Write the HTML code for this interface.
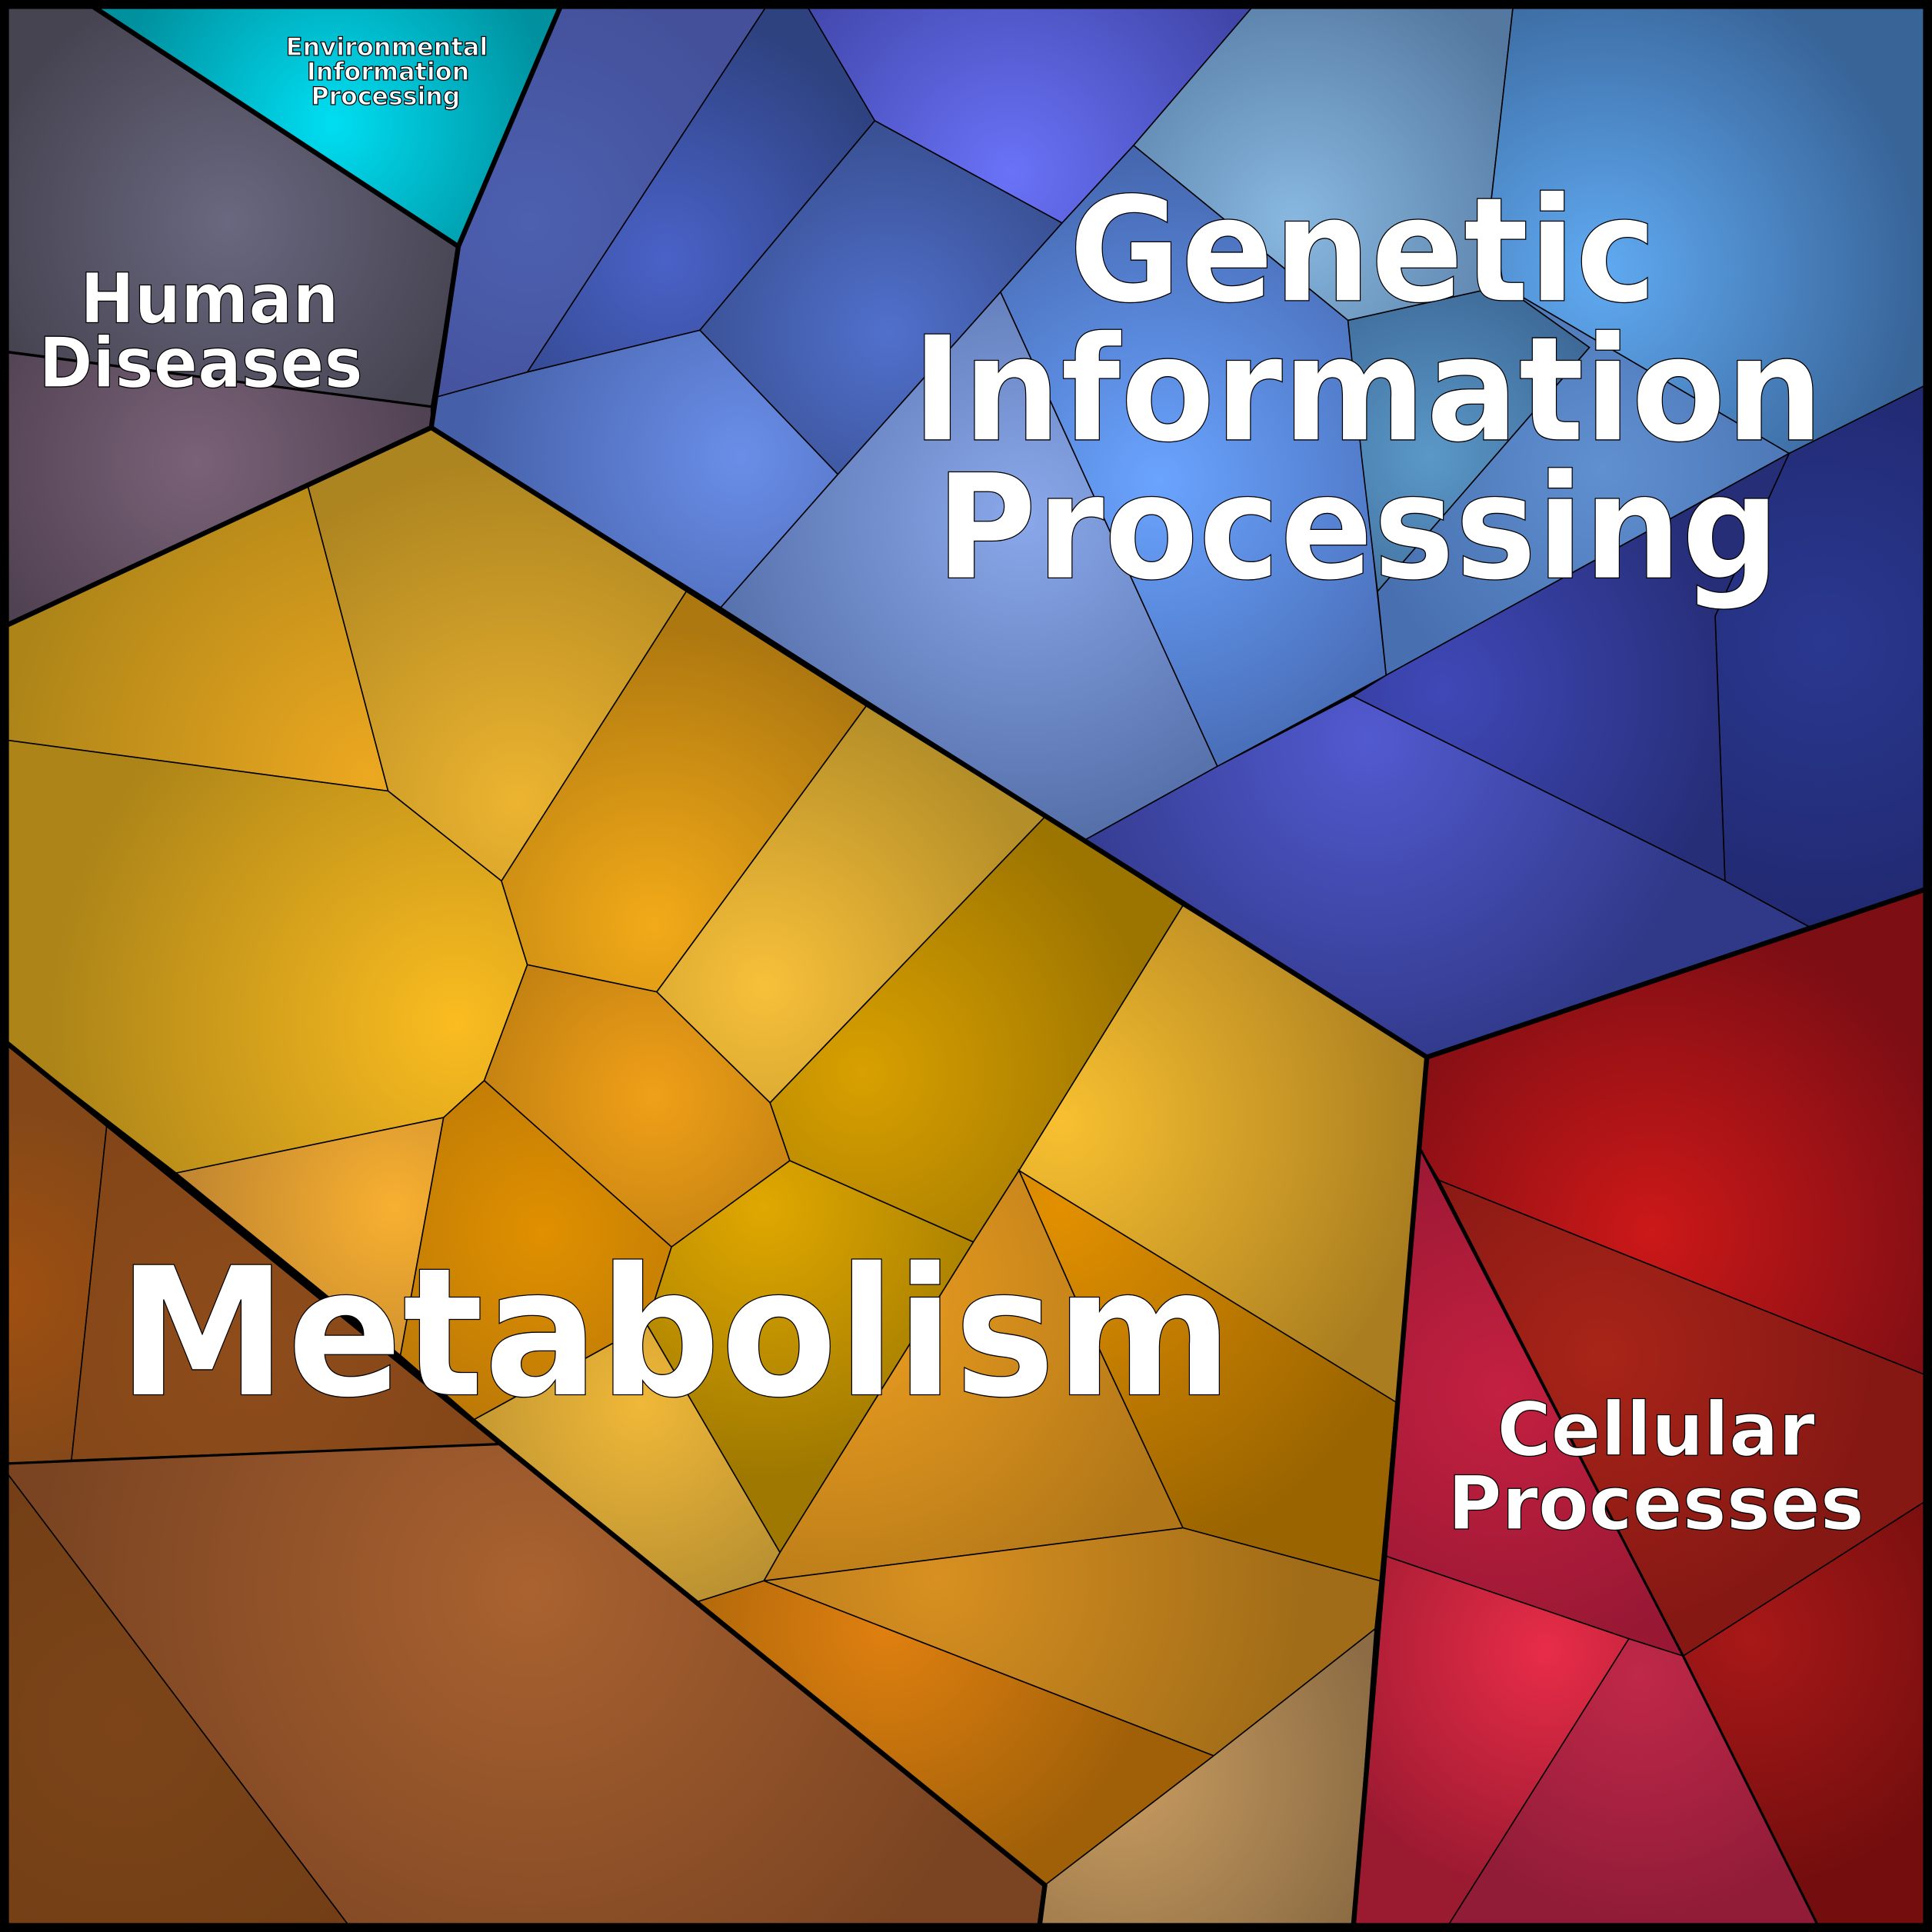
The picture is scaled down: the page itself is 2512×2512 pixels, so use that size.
<!DOCTYPE html>
<html><head><meta charset="utf-8"><style>html,body{margin:0;padding:0;background:#000}svg{display:block}
text{font-family:"DejaVu Sans","Liberation Sans",sans-serif;font-weight:bold;fill:#fff;stroke:#000;text-anchor:middle}</style></head>
<body>
<svg width="2512" height="2512" viewBox="0 0 1568 1568" xmlns="http://www.w3.org/2000/svg">
<defs>
<radialGradient id="hd1" gradientUnits="userSpaceOnUse" cx="185" cy="180" r="200"><stop offset="0" stop-color="#6a6880"/><stop offset="1" stop-color="#474452"/></radialGradient>
<radialGradient id="hd2" gradientUnits="userSpaceOnUse" cx="160" cy="375" r="200"><stop offset="0" stop-color="#7a6278"/><stop offset="1" stop-color="#4e4050"/></radialGradient>
<radialGradient id="env" gradientUnits="userSpaceOnUse" cx="270" cy="100" r="180"><stop offset="0" stop-color="#00def2"/><stop offset="1" stop-color="#00909e"/></radialGradient>
<radialGradient id="gA" gradientUnits="userSpaceOnUse" cx="430" cy="180" r="200"><stop offset="0" stop-color="#4c60b0"/><stop offset="1" stop-color="#44509a"/></radialGradient>
<radialGradient id="gB" gradientUnits="userSpaceOnUse" cx="540" cy="210" r="200"><stop offset="0" stop-color="#4a62c8"/><stop offset="1" stop-color="#2e4280"/></radialGradient>
<radialGradient id="gC" gradientUnits="userSpaceOnUse" cx="820" cy="140" r="220"><stop offset="0" stop-color="#6a72f8"/><stop offset="1" stop-color="#4046a8"/></radialGradient>
<radialGradient id="gD" gradientUnits="userSpaceOnUse" cx="720" cy="270" r="200"><stop offset="0" stop-color="#5070cc"/><stop offset="1" stop-color="#354a88"/></radialGradient>
<radialGradient id="gE" gradientUnits="userSpaceOnUse" cx="600" cy="370" r="220"><stop offset="0" stop-color="#6a8ee8"/><stop offset="1" stop-color="#4560a8"/></radialGradient>
<radialGradient id="gF" gradientUnits="userSpaceOnUse" cx="1050" cy="180" r="220"><stop offset="0" stop-color="#88b8e0"/><stop offset="1" stop-color="#5478a0"/></radialGradient>
<radialGradient id="gG" gradientUnits="userSpaceOnUse" cx="1300" cy="220" r="260"><stop offset="0" stop-color="#60aaf2"/><stop offset="1" stop-color="#386498"/></radialGradient>
<radialGradient id="gH" gradientUnits="userSpaceOnUse" cx="940" cy="390" r="260"><stop offset="0" stop-color="#6aa4ff"/><stop offset="1" stop-color="#4668b0"/></radialGradient>
<radialGradient id="gI" gradientUnits="userSpaceOnUse" cx="1160" cy="370" r="150"><stop offset="0" stop-color="#5a98c8"/><stop offset="1" stop-color="#3e6a98"/></radialGradient>
<radialGradient id="gJ" gradientUnits="userSpaceOnUse" cx="1300" cy="380" r="200"><stop offset="0" stop-color="#6090d0"/><stop offset="1" stop-color="#4870b0"/></radialGradient>
<radialGradient id="gK" gradientUnits="userSpaceOnUse" cx="830" cy="420" r="260"><stop offset="0" stop-color="#8aa8ea"/><stop offset="1" stop-color="#5670aa"/></radialGradient>
<radialGradient id="gL" gradientUnits="userSpaceOnUse" cx="1480" cy="520" r="250"><stop offset="0" stop-color="#2a3890"/><stop offset="1" stop-color="#20286e"/></radialGradient>
<radialGradient id="gM" gradientUnits="userSpaceOnUse" cx="1170" cy="560" r="240"><stop offset="0" stop-color="#4048b8"/><stop offset="1" stop-color="#262e78"/></radialGradient>
<radialGradient id="gN" gradientUnits="userSpaceOnUse" cx="1110" cy="600" r="280"><stop offset="0" stop-color="#525ad0"/><stop offset="1" stop-color="#303888"/></radialGradient>
<radialGradient id="c1" gradientUnits="userSpaceOnUse" cx="1340" cy="1000" r="260"><stop offset="0" stop-color="#cc1818"/><stop offset="1" stop-color="#7c0e14"/></radialGradient>
<radialGradient id="c2" gradientUnits="userSpaceOnUse" cx="1300" cy="1100" r="220"><stop offset="0" stop-color="#a82418"/><stop offset="1" stop-color="#861814"/></radialGradient>
<radialGradient id="c3" gradientUnits="userSpaceOnUse" cx="1220" cy="1130" r="220"><stop offset="0" stop-color="#c42040"/><stop offset="1" stop-color="#981834"/></radialGradient>
<radialGradient id="c4" gradientUnits="userSpaceOnUse" cx="1255" cy="1340" r="200"><stop offset="0" stop-color="#e82c48"/><stop offset="1" stop-color="#9a1a30"/></radialGradient>
<radialGradient id="c5" gradientUnits="userSpaceOnUse" cx="1330" cy="1360" r="200"><stop offset="0" stop-color="#c02848"/><stop offset="1" stop-color="#901c38"/></radialGradient>
<radialGradient id="c6" gradientUnits="userSpaceOnUse" cx="1420" cy="1330" r="200"><stop offset="0" stop-color="#a81818"/><stop offset="1" stop-color="#740e0e"/></radialGradient>
<radialGradient id="m1" gradientUnits="userSpaceOnUse" cx="300" cy="630" r="300"><stop offset="0" stop-color="#eca820"/><stop offset="1" stop-color="#ac8418"/></radialGradient>
<radialGradient id="m2" gradientUnits="userSpaceOnUse" cx="420" cy="650" r="280"><stop offset="0" stop-color="#ecb430"/><stop offset="1" stop-color="#ac8420"/></radialGradient>
<radialGradient id="m3" gradientUnits="userSpaceOnUse" cx="370" cy="830" r="330"><stop offset="0" stop-color="#fabc20"/><stop offset="1" stop-color="#ac8418"/></radialGradient>
<radialGradient id="m4" gradientUnits="userSpaceOnUse" cx="530" cy="750" r="240"><stop offset="0" stop-color="#f2aa18"/><stop offset="1" stop-color="#ae7810"/></radialGradient>
<radialGradient id="m5" gradientUnits="userSpaceOnUse" cx="620" cy="800" r="240"><stop offset="0" stop-color="#f8c03a"/><stop offset="1" stop-color="#b48e28"/></radialGradient>
<radialGradient id="m6" gradientUnits="userSpaceOnUse" cx="530" cy="890" r="180"><stop offset="0" stop-color="#f0a018"/><stop offset="1" stop-color="#b87a10"/></radialGradient>
<radialGradient id="m7" gradientUnits="userSpaceOnUse" cx="700" cy="870" r="240"><stop offset="0" stop-color="#d8a000"/><stop offset="1" stop-color="#9c7400"/></radialGradient>
<radialGradient id="m8" gradientUnits="userSpaceOnUse" cx="860" cy="910" r="300"><stop offset="0" stop-color="#f8c030"/><stop offset="1" stop-color="#aa7e20"/></radialGradient>
<radialGradient id="m9" gradientUnits="userSpaceOnUse" cx="320" cy="980" r="200"><stop offset="0" stop-color="#f8b030"/><stop offset="1" stop-color="#b88030"/></radialGradient>
<radialGradient id="m10" gradientUnits="userSpaceOnUse" cx="440" cy="1000" r="200"><stop offset="0" stop-color="#e09000"/><stop offset="1" stop-color="#b47408"/></radialGradient>
<radialGradient id="m11" gradientUnits="userSpaceOnUse" cx="620" cy="980" r="220"><stop offset="0" stop-color="#e0a800"/><stop offset="1" stop-color="#9e7800"/></radialGradient>
<radialGradient id="m12" gradientUnits="userSpaceOnUse" cx="520" cy="1140" r="200"><stop offset="0" stop-color="#f0b838"/><stop offset="1" stop-color="#b08a30"/></radialGradient>
<radialGradient id="m13" gradientUnits="userSpaceOnUse" cx="860" cy="980" r="300"><stop offset="0" stop-color="#e29000"/><stop offset="1" stop-color="#9a6400"/></radialGradient>
<radialGradient id="m14" gradientUnits="userSpaceOnUse" cx="680" cy="1050" r="300"><stop offset="0" stop-color="#f0a020"/><stop offset="1" stop-color="#b07618"/></radialGradient>
<radialGradient id="m15" gradientUnits="userSpaceOnUse" cx="760" cy="1280" r="300"><stop offset="0" stop-color="#d89020"/><stop offset="1" stop-color="#a06c18"/></radialGradient>
<radialGradient id="m16" gradientUnits="userSpaceOnUse" cx="720" cy="1320" r="220"><stop offset="0" stop-color="#e08010"/><stop offset="1" stop-color="#a06008"/></radialGradient>
<radialGradient id="m17" gradientUnits="userSpaceOnUse" cx="910" cy="1440" r="220"><stop offset="0" stop-color="#c89c60"/><stop offset="1" stop-color="#8c6c44"/></radialGradient>
<radialGradient id="b1" gradientUnits="userSpaceOnUse" cx="0" cy="1050" r="150"><stop offset="0" stop-color="#a05010"/><stop offset="1" stop-color="#844818"/></radialGradient>
<radialGradient id="b2" gradientUnits="userSpaceOnUse" cx="200" cy="1100" r="200"><stop offset="0" stop-color="#8e4c1a"/><stop offset="1" stop-color="#844618"/></radialGradient>
<radialGradient id="b3" gradientUnits="userSpaceOnUse" cx="430" cy="1290" r="400"><stop offset="0" stop-color="#aa6230"/><stop offset="1" stop-color="#7a4422"/></radialGradient>
<radialGradient id="b4" gradientUnits="userSpaceOnUse" cx="100" cy="1400" r="250"><stop offset="0" stop-color="#7c4418"/><stop offset="1" stop-color="#723e16"/></radialGradient>
</defs>
<rect width="1568" height="1568" fill="#000"/>
<g stroke="#000" stroke-width="1">
<polygon fill="url(#hd1)" points="0,0 75,5 372,200 350,330 5,285 0,285"/>
<polygon fill="url(#hd2)" points="0,285 5,285 350,330 350,347 0,510"/>
<polygon fill="url(#env)" points="75,5 455,5 372,200"/>
<polygon fill="url(#gA)" points="455,5 622,5 428,302 355,322 372,200"/>
<polygon fill="url(#gB)" points="622,5 655,5 710,98 568,268 428,302"/>
<polygon fill="url(#gC)" points="655,5 1017,5 920,118 862,181 710,98"/>
<polygon fill="url(#gD)" points="710,98 862,181 812,237 680,385 568,268"/>
<polygon fill="url(#gE)" points="355,322 428,302 568,268 680,385 585,493 350,347"/>
<polygon fill="url(#gF)" points="1017,5 1228,5 1210,165 1220,232 1094,260 920,118"/>
<polygon fill="url(#gG)" points="1228,5 1568,5 1568,310 1452,368 1220,232 1210,165"/>
<polygon fill="url(#gH)" points="920,118 1094,260 1125,548 988,622 812,237 862,181"/>
<polygon fill="url(#gI)" points="1094,260 1220,232 1290,282 1118,480 1105,370"/>
<polygon fill="url(#gJ)" points="1220,232 1452,368 1125,548 1118,480 1290,282"/>
<polygon fill="url(#gK)" points="812,237 988,622 880,682 585,493 680,385"/>
<polygon fill="url(#gL)" points="1452,368 1568,310 1568,720 1468,752 1400,715 1392,500"/>
<polygon fill="url(#gM)" points="1125,548 1452,368 1392,500 1400,715 1098,565"/>
<polygon fill="url(#gN)" points="988,622 1098,565 1400,715 1468,752 1158,858 880,682"/>
<polygon fill="url(#c1)" points="1158,858 1568,720 1568,1118 1168,958 1153,933"/>
<polygon fill="url(#c2)" points="1168,958 1568,1118 1568,1215 1366,1344"/>
<polygon fill="url(#c3)" points="1153,933 1366,1344 1322,1330 1125,1263"/>
<polygon fill="url(#c4)" points="1125,1263 1322,1330 1172,1568 1098,1568"/>
<polygon fill="url(#c5)" points="1322,1330 1366,1344 1478,1568 1172,1568"/>
<polygon fill="url(#c6)" points="1366,1344 1568,1215 1568,1568 1478,1568"/>
<polygon fill="url(#m1)" points="0,510 250,395 315,642 0,600"/>
<polygon fill="url(#m2)" points="250,395 350,347 557,480 407,715 315,642"/>
<polygon fill="url(#m3)" points="0,600 315,642 407,715 428,783 393,877 360,907 143,952 0,842"/>
<polygon fill="url(#m4)" points="557,480 703,573 533,805 428,783 407,715"/>
<polygon fill="url(#m5)" points="703,573 848,663 625,895 533,805"/>
<polygon fill="url(#m6)" points="428,783 533,805 625,895 641,942 545,1012 393,877"/>
<polygon fill="url(#m7)" points="848,663 960,735 827,950 790,1008 641,942 625,895"/>
<polygon fill="url(#m8)" points="960,735 1158,858 1133,1138 827,950"/>
<polygon fill="url(#m9)" points="143,952 360,907 325,1100"/>
<polygon fill="url(#m10)" points="360,907 393,877 545,1012 525,1075 385,1152 325,1100"/>
<polygon fill="url(#m11)" points="545,1012 641,942 790,1008 633,1260 525,1075"/>
<polygon fill="url(#m12)" points="385,1152 525,1075 633,1260 620,1283 566,1300"/>
<polygon fill="url(#m13)" points="827,950 1133,1138 1120,1283 960,1240 873,1054"/>
<polygon fill="url(#m14)" points="790,1008 827,950 873,1054 960,1240 620,1283 633,1260"/>
<polygon fill="url(#m15)" points="620,1283 960,1240 1120,1283 1116,1322 985,1425"/>
<polygon fill="url(#m16)" points="566,1300 620,1283 985,1425 848,1530"/>
<polygon fill="url(#m17)" points="985,1425 1116,1322 1098,1568 843,1568 848,1530"/>
<polygon fill="url(#b1)" points="0,842 87,910 58,1185 0,1188"/>
<polygon fill="url(#b2)" points="87,910 405,1172 58,1185"/>
<polygon fill="url(#b3)" points="0,1188 405,1172 848,1530 843,1568 287,1568"/>
<polygon fill="url(#b4)" points="0,1188 287,1568 0,1568"/>
</g>
<g fill="none" stroke="#000" stroke-width="4" stroke-linejoin="round">
<polyline points="75,5 372,200 350,347 0,510"/>
<polyline points="455,5 372,200"/>
<polyline points="350,347 1158,858 1568,720"/>
<polyline points="1158,858 1098,1568"/>
<polyline points="0,842 848,1530 843,1568"/>
</g>
<g stroke-width="2" fill="none" stroke="#000" stroke-linejoin="round">
<polyline points="0,285 350,330"/>
<polyline points="1153,933 1366,1344 1478,1568"/>
<polyline points="0,1188 405,1172"/>
</g>
<rect x="3.5" y="3.5" width="1561" height="1561" fill="none" stroke="#000" stroke-width="7.5"/>
<g stroke-width="0.8">
<text x="314" y="45" font-size="20" textLength="164" lengthAdjust="spacingAndGlyphs">Environmental</text>
<text x="315" y="65" font-size="20" textLength="132" lengthAdjust="spacingAndGlyphs">Information</text>
<text x="313" y="85" font-size="20" textLength="121" lengthAdjust="spacingAndGlyphs">Processing</text>
<text x="170" y="262" font-size="56" textLength="210" lengthAdjust="spacingAndGlyphs">Human</text>
<text x="163" y="314" font-size="56" textLength="263" lengthAdjust="spacingAndGlyphs">Diseases</text>
<text x="1344" y="1181" font-size="60" textLength="258" lengthAdjust="spacingAndGlyphs">Cellular</text>
<text x="1344" y="1241" font-size="60" textLength="338" lengthAdjust="spacingAndGlyphs">Processes</text>
<text x="1106" y="244" font-size="118" textLength="477" lengthAdjust="spacingAndGlyphs">Genetic</text>
<text x="1110" y="357" font-size="118" textLength="740" lengthAdjust="spacingAndGlyphs">Information</text>
<text x="1102" y="469" font-size="118" textLength="685" lengthAdjust="spacingAndGlyphs">Processing</text>
<text x="548" y="1132" font-size="145" textLength="905" lengthAdjust="spacingAndGlyphs">Metabolism</text>
</g>
</svg>
</body></html>
